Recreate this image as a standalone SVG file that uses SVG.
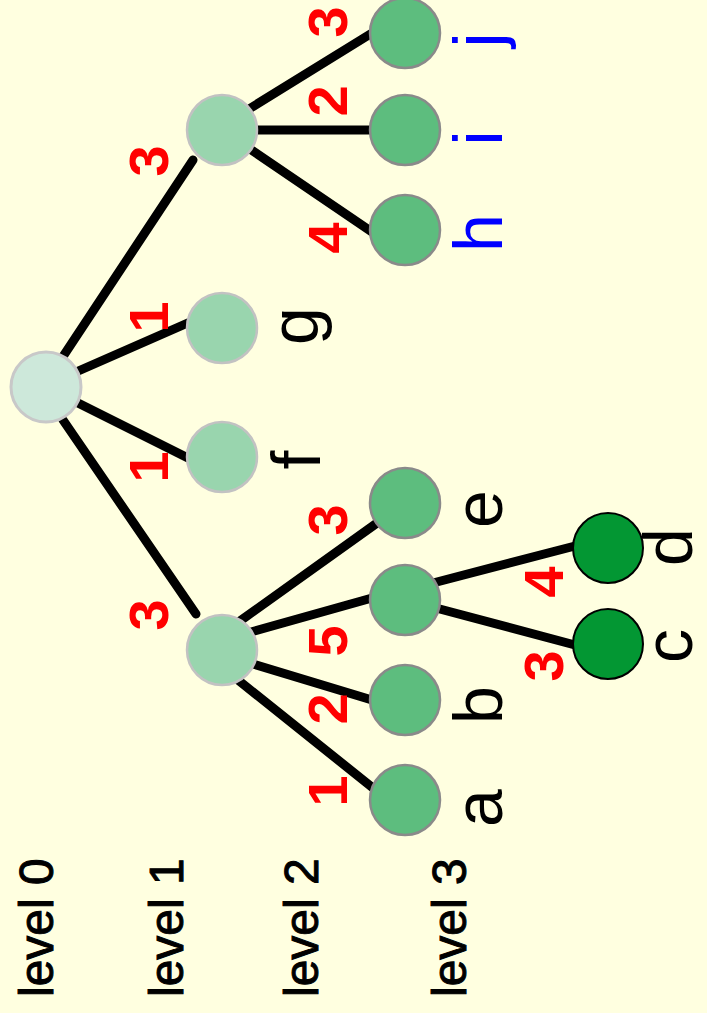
<svg xmlns="http://www.w3.org/2000/svg" width="707" height="1013" viewBox="0 0 707 1013">
  <style>
    .edge { stroke: #000; stroke-width: 9; stroke-linecap: round; fill: none; }
    .n0 { fill: #cde8da; stroke: #c8c8c8; stroke-width: 3; }
    .n1 { fill: #99d5ae; stroke: #c2c2c2; stroke-width: 2.5; }
    .n2 { fill: #5dbd7e; stroke: #8a8a8a; stroke-width: 2.5; }
    .n3 { fill: #039733; stroke: #000; stroke-width: 2; }
    .lbl { font-family: "Liberation Sans", "DejaVu Sans", sans-serif; font-size: 68px; fill: #000; text-anchor: middle; }
    .blue { fill: #0000ff; }
    .w { font-family: "Liberation Sans", "DejaVu Sans", sans-serif; font-size: 56px; font-weight: bold; fill: #ff0000; text-anchor: middle; }
    .lvl { font-family: "Liberation Sans", "DejaVu Sans", sans-serif; font-size: 48px; fill: #000; stroke: #000; stroke-width: 1; }
  </style>
  <rect width="707" height="1013" fill="#ffffe0"/>

  <!-- connectors -->
  <g id="edges">
    <line class="edge" x1="62" y1="358" x2="193" y2="160"/>
    <line class="edge" x1="76" y1="372" x2="190" y2="322"/>
    <line class="edge" x1="76" y1="402" x2="188" y2="458"/>
    <line class="edge" x1="63" y1="420" x2="196" y2="614"/>
    <line class="edge" x1="249" y1="109" x2="372" y2="33"/>
    <line class="edge" x1="255" y1="130" x2="373" y2="130"/>
    <line class="edge" x1="250" y1="149" x2="372" y2="232"/>
    <line class="edge" x1="240" y1="621" x2="377" y2="523"/>
    <line class="edge" x1="251" y1="632" x2="372" y2="598"/>
    <line class="edge" x1="253" y1="664" x2="372" y2="700"/>
    <line class="edge" x1="238" y1="680" x2="373" y2="788"/>
    <line class="edge" x1="433" y1="583" x2="575" y2="546"/>
    <line class="edge" x1="436" y1="608" x2="575" y2="645"/>
  </g>

  <!-- edge weights -->
  <g id="weights">
    <text class="w" transform="translate(168,161) rotate(-90)">3</text>
    <text class="w" transform="translate(168,317) rotate(-90)">1</text>
    <text class="w" transform="translate(168,467) rotate(-90)">1</text>
    <text class="w" transform="translate(168,615) rotate(-90)">3</text>
    <text class="w" transform="translate(347,22) rotate(-90)">3</text>
    <text class="w" transform="translate(347,101) rotate(-90)">2</text>
    <text class="w" transform="translate(347,238) rotate(-90)">4</text>
    <text class="w" transform="translate(347,520) rotate(-90)">3</text>
    <text class="w" transform="translate(347,641) rotate(-90)">5</text>
    <text class="w" transform="translate(347,709) rotate(-90)">2</text>
    <text class="w" transform="translate(347,791) rotate(-90)">1</text>
    <text class="w" transform="translate(563,582) rotate(-90)">4</text>
    <text class="w" transform="translate(563,666) rotate(-90)">3</text>
  </g>

  <g id="root"><circle class="n0" cx="46" cy="387" r="35"/></g>
  <g id="node-p1"><circle class="n1" cx="222" cy="130" r="35"/></g>
  <g id="node-g">
    <circle class="n1" cx="222" cy="328" r="35"/>
    <text class="lbl" transform="translate(318,326) rotate(-90)">g</text>
  </g>
  <g id="node-f">
    <circle class="n1" cx="222" cy="457" r="35"/>
    <text class="lbl" transform="translate(320,460) rotate(-90)">f</text>
  </g>
  <g id="node-p2"><circle class="n1" cx="222" cy="650" r="35"/></g>

  <g id="node-j">
    <circle class="n2" cx="405" cy="33" r="35"/>
    <text class="lbl blue" transform="translate(502,40) rotate(-90)">j</text>
  </g>
  <g id="node-i">
    <circle class="n2" cx="405" cy="130" r="35"/>
    <text class="lbl blue" transform="translate(502,138) rotate(-90)">i</text>
  </g>
  <g id="node-h">
    <circle class="n2" cx="405" cy="230" r="35"/>
    <text class="lbl blue" transform="translate(502,233) rotate(-90)">h</text>
  </g>
  <g id="node-e">
    <circle class="n2" cx="405" cy="503" r="35"/>
    <text class="lbl" transform="translate(502,509) rotate(-90)">e</text>
  </g>
  <g id="node-p3"><circle class="n2" cx="405" cy="600" r="35"/></g>
  <g id="node-b">
    <circle class="n2" cx="405" cy="700" r="35"/>
    <text class="lbl" transform="translate(502,705) rotate(-90)">b</text>
  </g>
  <g id="node-a">
    <circle class="n2" cx="405" cy="800" r="35"/>
    <text class="lbl" transform="translate(502,808) rotate(-90)">a</text>
  </g>

  <g id="node-d">
    <circle class="n3" cx="608" cy="548" r="35"/>
    <text class="lbl" transform="translate(692,547) rotate(-90)">d</text>
  </g>
  <g id="node-c">
    <circle class="n3" cx="608" cy="644" r="35"/>
    <text class="lbl" transform="translate(692,646) rotate(-90)">c</text>
  </g>

  <!-- level captions -->
  <g id="levels">
    <text class="lvl" transform="translate(53,997) rotate(-90)">level 0</text>
    <text class="lvl" transform="translate(183,997) rotate(-90)">level 1</text>
    <text class="lvl" transform="translate(318,997) rotate(-90)">level 2</text>
    <text class="lvl" transform="translate(466,997) rotate(-90)">level 3</text>
  </g>
</svg>
